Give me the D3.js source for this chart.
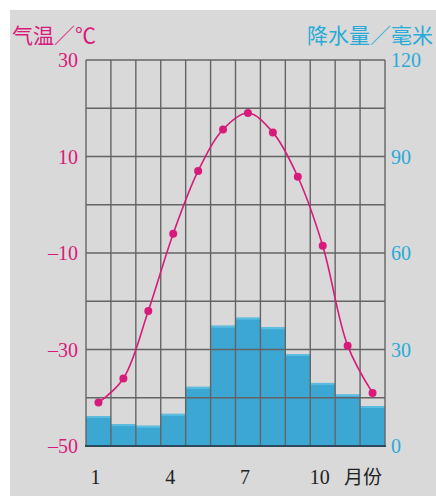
<!DOCTYPE html>
<html>
<head>
<meta charset="utf-8">
<script src="https://cdn.jsdelivr.net/npm/d3@7.9.0/dist/d3.min.js"></script>
<style>
  html, body { margin: 0; padding: 0; background: #fff; }
  svg { display: block; }
</style>
</head>
<body>
<div id="chart"></div>
<script>
// months + monthly values
const months = [1, 2, 3, 4, 5, 6, 7, 8, 9, 10, 11, 12];
const monthLabels = [1, 4, 7, 10];
const temperature = [-41, -36, -22, -6, 7, 15.6, 19, 15, 5.8, -8.5, -29.2, -39];
const precipitation = [9.3, 6.8, 6.3, 10, 18.4, 37.4, 39.9, 36.9, 28.6, 19.6, 16, 12.4];
const tempTicks = [30, 10, -10, -30, -50];
const precTicks = [120, 90, 60, 30, 0];

const width = 436;
const height = 496;
const plot = { left: 86, right: 385, top: 60, bottom: 446 };

const magenta = '#d81b7a';
const cyan = '#2aaad8';
const serif = '"Liberation Serif", "DejaVu Serif", serif';
const cjk = '"Noto Sans CJK SC", sans-serif';

const svg = d3.select('#chart')
  .append('svg')
  .attr('width', width)
  .attr('height', height);

// gray card
svg.append('rect')
  .attr('x', 10).attr('y', 10)
  .attr('width', width - 10).attr('height', height - 10)
  .attr('fill', '#d9d9d9');

const x = d3.scaleBand()
  .domain(months)
  .range([plot.left, plot.right])
  .padding(0);

const yT = d3.scaleLinear().domain([-50, 30]).range([plot.bottom, plot.top]);
const yP = d3.scaleLinear().domain([0, 120]).range([plot.bottom, plot.top]);

// precipitation bars
const bars = svg.append('g').attr('class', 'bars');
bars.selectAll('rect.bar')
  .data(precipitation)
  .join('rect')
  .attr('class', 'bar')
  .attr('x', (d, i) => x(months[i]))
  .attr('y', d => yP(d))
  .attr('width', x.bandwidth())
  .attr('height', d => plot.bottom - yP(d))
  .attr('fill', '#3ba7d2');
bars.selectAll('rect.cap')
  .data(precipitation)
  .join('rect')
  .attr('class', 'cap')
  .attr('x', (d, i) => x(months[i]))
  .attr('y', d => yP(d))
  .attr('width', x.bandwidth())
  .attr('height', 2)
  .attr('fill', '#5cbde0');

// grid: every 10 degrees + month columns
const grid = svg.append('g')
  .attr('class', 'gridlines')
  .attr('stroke', '#646464')
  .attr('stroke-width', 1.4);

grid.selectAll('line.h')
  .data(d3.range(-50, 31, 10))
  .join('line')
  .attr('class', 'h')
  .attr('x1', plot.left).attr('x2', plot.right)
  .attr('y1', d => yT(d)).attr('y2', d => yT(d));

grid.selectAll('line.v')
  .data(d3.range(0, months.length + 1))
  .join('line')
  .attr('class', 'v')
  .attr('x1', i => plot.left + i * x.bandwidth())
  .attr('x2', i => plot.left + i * x.bandwidth())
  .attr('y1', plot.top).attr('y2', plot.bottom);

// darker base line
svg.append('line')
  .attr('x1', plot.left - 1).attr('x2', plot.right + 1)
  .attr('y1', plot.bottom).attr('y2', plot.bottom)
  .attr('stroke', '#2c4a60')
  .attr('stroke-width', 2.2);

// temperature curve
const pts = temperature.map((t, i) => [x(months[i]) + x.bandwidth() / 2, yT(t)]);
svg.append('path')
  .attr('d', d3.line().curve(d3.curveCatmullRom.alpha(0.5))(pts))
  .attr('fill', 'none')
  .attr('stroke', magenta)
  .attr('stroke-width', 1.6);

svg.append('g')
  .selectAll('circle')
  .data(pts)
  .join('circle')
  .attr('cx', d => d[0])
  .attr('cy', d => d[1])
  .attr('r', 4)
  .attr('fill', magenta);

// left axis labels
svg.append('g')
  .selectAll('text')
  .data(tempTicks)
  .join('text')
  .attr('x', 78)
  .attr('y', d => yT(d))
  .attr('dy', '0.35em')
  .attr('text-anchor', 'end')
  .attr('fill', magenta)
  .style('font', `20px ${serif}`)
  .text(d => d < 0 ? '\u2013' + Math.abs(d) : d);

// right axis labels
svg.append('g')
  .selectAll('text')
  .data(precTicks)
  .join('text')
  .attr('x', 391)
  .attr('y', d => yP(d))
  .attr('dy', '0.35em')
  .attr('text-anchor', 'start')
  .attr('fill', cyan)
  .style('font', `20px ${serif}`)
  .text(d => d);

// month labels
svg.append('g')
  .selectAll('text')
  .data(monthLabels)
  .join('text')
  .attr('x', d => x(d) + x.bandwidth() / 2 - 3)
  .attr('y', 484)
  .attr('text-anchor', 'middle')
  .attr('fill', '#222')
  .style('font', `20px ${serif}`)
  .text(d => d);

svg.append('text')
  .attr('x', 344).attr('y', 484)
  .attr('fill', '#222')
  .style('font', `19px ${cjk}`)
  .text('月份');

// axis titles
svg.append('text')
  .attr('x', 12).attr('y', 43)
  .attr('fill', magenta)
  .style('font', `21px ${cjk}`)
  .text('气温／℃');

svg.append('text')
  .attr('x', 433).attr('y', 43)
  .attr('text-anchor', 'end')
  .attr('fill', cyan)
  .style('font', `21px ${cjk}`)
  .text('降水量／毫米');
</script>
</body>
</html>
